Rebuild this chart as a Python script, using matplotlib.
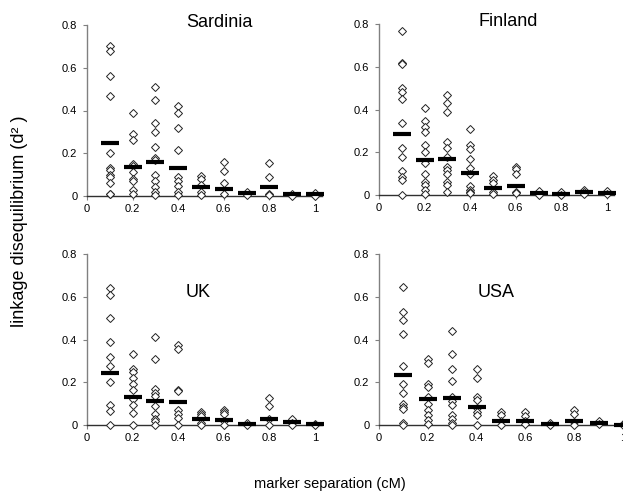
import matplotlib
matplotlib.use("Agg")
import matplotlib.pyplot as plt

plt.rcParams['font.family'] = ['Liberation Sans', 'DejaVu Sans']

separation = [0.1, 0.2, 0.3, 0.4, 0.5, 0.6, 0.7, 0.8, 0.9, 1.0]
x_ticks = [0, 0.2, 0.4, 0.6, 0.8, 1.0]
x_tick_labels = ["0", "0.2", "0.4", "0.6", "0.8", "1"]
y_ticks = [0, 0.2, 0.4, 0.6, 0.8]
y_tick_labels = ["0", "0.2", "0.4", "0.6", "0.8"]

sardinia_points = [
    [0.70, 0.68, 0.56, 0.47, 0.20, 0.13, 0.12, 0.10, 0.09, 0.06, 0.01, 0.01],
    [0.39, 0.29, 0.26, 0.15, 0.14, 0.11, 0.08, 0.07, 0.03, 0.01],
    [0.51, 0.45, 0.34, 0.30, 0.23, 0.18, 0.17, 0.10, 0.07, 0.04, 0.02, 0.005],
    [0.42, 0.39, 0.32, 0.215, 0.09, 0.07, 0.045, 0.02, 0.005],
    [0.095, 0.08, 0.05, 0.02, 0.005],
    [0.16, 0.115, 0.06, 0.01],
    [0.02, 0.005],
    [0.155, 0.09, 0.01, 0.005],
    [0.01, 0.0],
    [0.015, 0.0],
]
sardinia_means = [0.246, 0.137, 0.16, 0.133, 0.04, 0.033, 0.012, 0.04, 0.008, 0.008]

finland_points = [
    [0.766, 0.617, 0.614, 0.50, 0.48, 0.45, 0.336, 0.22, 0.18, 0.11, 0.086, 0.07, 0.0],
    [0.406, 0.344, 0.32, 0.297, 0.234, 0.203, 0.148, 0.10, 0.0625, 0.047, 0.023, 0.005],
    [0.47, 0.43, 0.386, 0.25, 0.22, 0.18, 0.133, 0.117, 0.10, 0.0625, 0.047, 0.016],
    [0.31, 0.234, 0.214, 0.17, 0.125, 0.10, 0.04, 0.023, 0.016, 0.008],
    [0.09, 0.07, 0.055, 0.016, 0.005],
    [0.133, 0.12, 0.10, 0.016, 0.008],
    [0.02, 0.0],
    [0.012, 0.0],
    [0.023, 0.016, 0.003],
    [0.02, 0.003],
]
finland_means = [0.286, 0.164, 0.167, 0.105, 0.031, 0.044, 0.008, 0.006, 0.012, 0.008]

uk_points = [
    [0.64, 0.61, 0.50, 0.39, 0.32, 0.275, 0.20, 0.095, 0.064, 0.0],
    [0.33, 0.26, 0.25, 0.22, 0.19, 0.165, 0.12, 0.095, 0.056, 0.0],
    [0.41, 0.31, 0.17, 0.15, 0.134, 0.087, 0.05, 0.03, 0.017, 0.0],
    [0.375, 0.355, 0.165, 0.157, 0.07, 0.053, 0.033, 0.0],
    [0.06, 0.05, 0.04, 0.01, 0.0],
    [0.07, 0.06, 0.05, 0.02, 0.0],
    [0.01, 0.0],
    [0.125, 0.09, 0.03, 0.0],
    [0.03, 0.01, 0.0],
    [0.005, 0.0],
]
uk_means = [0.243, 0.13, 0.114, 0.106, 0.027, 0.022, 0.003, 0.03, 0.012, 0.003]

usa_points = [
    [0.645, 0.53, 0.49, 0.427, 0.277, 0.19, 0.15, 0.10, 0.086, 0.073, 0.008, 0.0],
    [0.31, 0.29, 0.19, 0.177, 0.133, 0.10, 0.07, 0.047, 0.023, 0.005],
    [0.44, 0.333, 0.26, 0.208, 0.133, 0.11, 0.094, 0.047, 0.027, 0.011, 0.0],
    [0.26, 0.22, 0.13, 0.117, 0.078, 0.0625, 0.047, 0.0],
    [0.06, 0.045, 0.02, 0.0],
    [0.06, 0.04, 0.02, 0.005],
    [0.01, 0.0],
    [0.07, 0.05, 0.015, 0.0],
    [0.02, 0.005],
    [0.005, 0.0],
]
usa_means = [0.234, 0.122, 0.128, 0.086, 0.02, 0.017, 0.003, 0.02, 0.01, 0.002]

panels = [
    ("Sardinia", sardinia_points, sardinia_means, [87, 196, 228], (0.58, 0.81)),
    ("Finland", finland_points, finland_means, [379, 195, 228], (0.566, 0.81)),
    ("UK", uk_points, uk_means, [87, 425, 228], (0.487, 0.62)),
    ("USA", usa_points, usa_means, [379, 425, 244], (0.48, 0.62)),
]

W, H = 623, 500
fig = plt.figure(figsize=(W / 100, H / 100), dpi=100)

xmax = 1.03
for name, pts, means, (left_px, bottom_px, unit_px), (tx, ty) in panels:
    ax = fig.add_axes([left_px / W, (H - bottom_px) / H, unit_px * xmax / W, 171 / H])
    ax.set_xlim(0, xmax)
    ax.set_ylim(0, 0.8)
    for xv, vals in zip(separation, pts):
        ax.plot([xv] * len(vals), vals, linestyle='none', marker='D', markersize=4.4,
                markerfacecolor='white', markeredgecolor='#222222', markeredgewidth=0.7,
                clip_on=False, zorder=3)
    ax.plot(separation, means, linestyle='none', marker='_', markersize=12.5,
            markeredgewidth=3.0, color='black', clip_on=False, zorder=4)
    ax.set_xticks(x_ticks)
    ax.set_xticklabels(x_tick_labels)
    ax.set_yticks(y_ticks)
    ax.set_yticklabels(y_tick_labels)
    ax.tick_params(axis='both', direction='out', length=3, width=0.8, labelsize=8,
                   color='#808080')
    ax.tick_params(axis='x', pad=3)
    ax.tick_params(axis='y', pad=4)
    for s in ['top', 'right']:
        ax.spines[s].set_visible(False)
    ax.spines['left'].set_color('#808080')
    ax.spines['left'].set_linewidth(1.0)
    ax.spines['bottom'].set_color('#303030')
    ax.spines['bottom'].set_linewidth(1.0)
    ax.set_facecolor('none')
    ax.text(tx, ty, name, fontsize=13, ha='center', va='center')

fig.text(20 / W, 1 - 221 / H, "linkage disequilibrium (d² )", rotation=90,
         fontsize=13, ha='center', va='center')
fig.text(330 / W, 1 - 484 / H, "marker separation (cM)", fontsize=10.5,
         ha='center', va='center')

fig.savefig("out.png", dpi=100)
